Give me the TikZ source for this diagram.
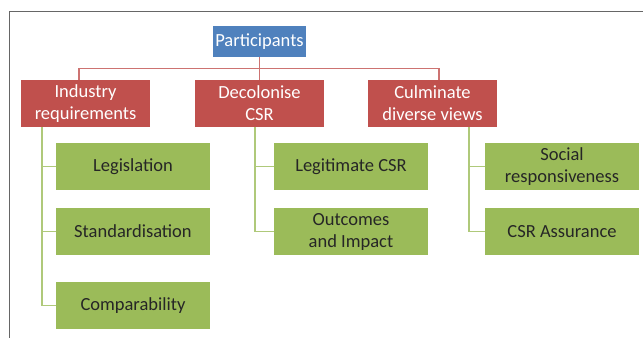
\documentclass[tikz,border=0pt]{standalone}
\usepackage{fontspec}
\setmainfont{Carlito}
\usepackage{tikz}
\usetikzlibrary{positioning}

\definecolor{boxblue}{HTML}{4F81BD}
\definecolor{boxred}{HTML}{C0504D}
\definecolor{boxgreen}{HTML}{9BBB59}
\definecolor{txtdark}{HTML}{262626}

\begin{document}
\begin{tikzpicture}[x=1pt, y=-1pt,
  root/.style={fill=boxblue, text=white, minimum width=93pt, minimum height=31pt, inner sep=0pt},
  branch/.style={fill=boxred, text=white, minimum width=129pt, minimum height=47pt, inner sep=0pt, align=center},
  leaf/.style={fill=boxgreen, text=txtdark, minimum width=154pt, minimum height=47pt, inner sep=0pt, align=center},
  rline/.style={boxred!80!white, line width=1.2pt},
  gline/.style={boxgreen!80!white, line width=1.2pt},
  font=\fontsize{18.5}{22}\selectfont]
  \useasboundingbox (0,0) rectangle (643,338);

  % Frame
  \draw[gray!80!black, line width=1pt] (643,11) -- (9.5,11) -- (9.5,338);

  % Top level
  \node[root] (part) at (259.5,41.5) {Participants};

  % Second level
  \node[branch] (ind) at (85.5,103.5) {Industry\\requirements};
  \node[branch] (dec) at (259.5,103.5) {Decolonise\\CSR};
  \node[branch] (cul) at (432.5,103.5) {Culminate\\diverse views};

  % Leaves
  \node[leaf] (leg) at (133,166.5) {Legislation};
  \node[leaf] (std) at (133,231.5) {Standardisation};
  \node[leaf] (cmp) at (133,305.5) {Comparability};
  \node[leaf] (lgc) at (351,166.5) {Legitimate CSR};
  \node[leaf] (out) at (351,231.5) {Outcomes\\and Impact};
  \node[leaf] (soc) at (562,166.5) {Social\\responsiveness};
  \node[leaf] (ass) at (562,231.5) {CSR Assurance};

  % Red links
  \draw[rline] (part.south) -- ++(0,11.5) -| ([xshift=-6.5pt]ind.north);
  \draw[rline] (part.south) -- ++(0,11.5) -| ([xshift=6.5pt]cul.north);
  \draw[rline] (part.south) -- (dec.north);

  % Green rails
  \coordinate (railA) at (42,127);
  \coordinate (railB) at (255,127);
  \coordinate (railC) at (469,127);
  \draw[gline] (railA) |- (leg.west);
  \draw[gline] (railA) |- (std.west);
  \draw[gline] (railA) |- (cmp.west);
  \draw[gline] (railB) |- (lgc.west);
  \draw[gline] (railB) |- (out.west);
  \draw[gline] (railC) |- (soc.west);
  \draw[gline] (railC) |- (ass.west);
\end{tikzpicture}
\end{document}
